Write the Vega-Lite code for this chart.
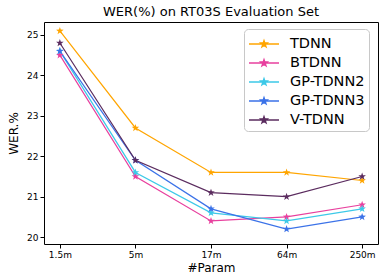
{
  "$schema": "https://vega.github.io/schema/vega-lite/v6.json",
  "autosize": "none",
  "width": 334,
  "height": 222,
  "padding": {"left": 44, "top": 22, "right": 7, "bottom": 31},
  "background": "white",
  "title": {"text": "WER(%) on RT03S Evaluation Set", "font": "DejaVu Sans", "fontSize": 13, "fontWeight": "normal", "color": "black", "offset": 3},
  "config": {
    "view": {"stroke": "black", "strokeWidth": 1},
    "font": "DejaVu Sans"
  },
  "data": {
    "values": [
      {"size": "1.5m", "model": "TDNN", "wer": 25.1},
      {"size": "5m", "model": "TDNN", "wer": 22.7},
      {"size": "17m", "model": "TDNN", "wer": 21.6},
      {"size": "64m", "model": "TDNN", "wer": 21.6},
      {"size": "250m", "model": "TDNN", "wer": 21.4},
      {"size": "1.5m", "model": "BTDNN", "wer": 24.5},
      {"size": "5m", "model": "BTDNN", "wer": 21.5},
      {"size": "17m", "model": "BTDNN", "wer": 20.4},
      {"size": "64m", "model": "BTDNN", "wer": 20.5},
      {"size": "250m", "model": "BTDNN", "wer": 20.8},
      {"size": "1.5m", "model": "GP-TDNN2", "wer": 24.6},
      {"size": "5m", "model": "GP-TDNN2", "wer": 21.6},
      {"size": "17m", "model": "GP-TDNN2", "wer": 20.6},
      {"size": "64m", "model": "GP-TDNN2", "wer": 20.4},
      {"size": "250m", "model": "GP-TDNN2", "wer": 20.7},
      {"size": "1.5m", "model": "GP-TDNN3", "wer": 24.6},
      {"size": "5m", "model": "GP-TDNN3", "wer": 21.9},
      {"size": "17m", "model": "GP-TDNN3", "wer": 20.7},
      {"size": "64m", "model": "GP-TDNN3", "wer": 20.2},
      {"size": "250m", "model": "GP-TDNN3", "wer": 20.5},
      {"size": "1.5m", "model": "V-TDNN", "wer": 24.8},
      {"size": "5m", "model": "V-TDNN", "wer": 21.9},
      {"size": "17m", "model": "V-TDNN", "wer": 21.1},
      {"size": "64m", "model": "V-TDNN", "wer": 21.0},
      {"size": "250m", "model": "V-TDNN", "wer": 21.5}
    ]
  },
  "encoding": {
    "x": {
      "field": "size", "type": "nominal",
      "sort": ["1.5m", "5m", "17m", "64m", "250m"],
      "scale": {"type": "point", "padding": 0.21},
      "axis": {"title": "#Param", "titleFontSize": 12, "titleFontWeight": "normal", "titleColor": "black", "titlePadding": 3,
               "labelAngle": 0, "labelFontSize": 9, "labelColor": "black", "domain": false, "tickColor": "black", "tickSize": 4, "labelPadding": 2}
    },
    "y": {
      "field": "wer", "type": "quantitative",
      "scale": {"domain": [19.83, 25.32], "nice": false, "zero": false},
      "axis": {"title": "WER.%", "titleFontSize": 12, "titleFontWeight": "normal", "titleColor": "black", "titlePadding": 6,
               "values": [20, 21, 22, 23, 24, 25], "grid": false,
               "labelFontSize": 9, "labelColor": "black", "domain": false, "tickColor": "black", "tickSize": 4, "labelPadding": 2}
    },
    "color": {
      "field": "model", "type": "nominal",
      "scale": {"domain": ["TDNN", "BTDNN", "GP-TDNN2", "GP-TDNN3", "V-TDNN"],
                "range": ["#FFA500", "#E8409E", "#3DC9E8", "#3B72E8", "#5B2C5F"]},
      "legend": {
        "title": null, "orient": "none", "legendX": 200, "legendY": 7,
        "fillColor": "white", "strokeColor": "#c8c8c8", "cornerRadius": 4, "padding": 4,
        "labelFontSize": 14.5, "labelColor": "black", "rowPadding": 1, "labelOffset": 20,
        "symbolType": "M-1,0H2M0.5,-0.35L0.582,-0.113L0.833,-0.108L0.633,0.043L0.706,0.283L0.5,0.14L0.294,0.283L0.367,0.043L0.167,-0.108L0.418,-0.113Z",
        "symbolSize": 400, "symbolStrokeWidth": 1.3
      }
    }
  },
  "layer": [
    {"mark": {"type": "line", "strokeWidth": 1.2}},
    {"mark": {"type": "point", "shape": "M0,-1L0.235,-0.324L0.951,-0.309L0.38,0.124L0.588,0.809L0,0.4L-0.588,0.809L-0.38,0.124L-0.951,-0.309L-0.235,-0.324Z", "size": 64, "filled": true, "opacity": 1}}
  ]
}
